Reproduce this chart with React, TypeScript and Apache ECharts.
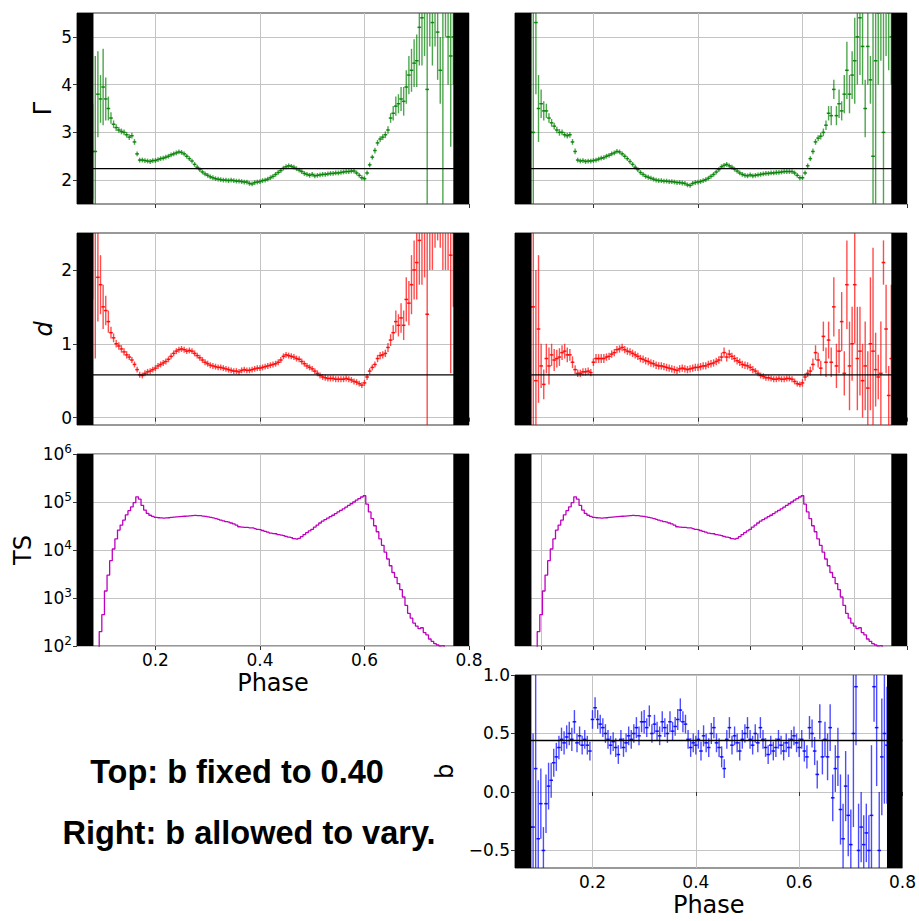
import { useEffect, useRef } from "react";
import * as echarts from "echarts";

// ---------------- DATA ----------------
const phase = [
  0.080, 0.085, 0.090, 0.095, 0.100, 0.105, 0.110, 0.115, 0.120, 0.125,
  0.130, 0.135, 0.140, 0.145, 0.150, 0.155, 0.160, 0.165, 0.170, 0.175,
  0.180, 0.185, 0.190, 0.195, 0.200, 0.205, 0.210, 0.215, 0.220, 0.225,
  0.230, 0.235, 0.240, 0.245, 0.250, 0.255, 0.260, 0.265, 0.270, 0.275,
  0.280, 0.285, 0.290, 0.295, 0.300, 0.305, 0.310, 0.315, 0.320, 0.325,
  0.330, 0.335, 0.340, 0.345, 0.350, 0.355, 0.360, 0.365, 0.370, 0.375,
  0.380, 0.385, 0.390, 0.395, 0.400, 0.405, 0.410, 0.415, 0.420, 0.425,
  0.430, 0.435, 0.440, 0.445, 0.450, 0.455, 0.460, 0.465, 0.470, 0.475,
  0.480, 0.485, 0.490, 0.495, 0.500, 0.505, 0.510, 0.515, 0.520, 0.525,
  0.530, 0.535, 0.540, 0.545, 0.550, 0.555, 0.560, 0.565, 0.570, 0.575,
  0.580, 0.585, 0.590, 0.595, 0.600, 0.605, 0.610, 0.615, 0.620, 0.625,
  0.630, 0.635, 0.640, 0.645, 0.650, 0.655, 0.660, 0.665, 0.670, 0.675,
  0.680, 0.685, 0.690, 0.695, 0.700, 0.705, 0.710, 0.715, 0.720, 0.725,
  0.730, 0.735, 0.740, 0.745, 0.750, 0.755, 0.760, 0.765, 0.770,
];

// Photon index Gamma, b fixed (left)
const gammaFixed = [
  2.6, 2.6, 3.8, 3.7, 3.95, 3.7, 3.5, 3.3, 3.17, 3.1,
  3.05, 3.02, 3.0, 2.95, 2.9, 2.93, 2.8, 2.55, 2.42, 2.42,
  2.41, 2.4, 2.39, 2.41, 2.41, 2.43, 2.45, 2.46, 2.48, 2.5,
  2.53, 2.55, 2.57, 2.59, 2.58, 2.55, 2.5, 2.45, 2.4, 2.33,
  2.27, 2.22, 2.17, 2.13, 2.1, 2.07, 2.05, 2.03, 2.02, 2.01,
  2.0, 2.0, 1.99, 2.0, 1.99, 1.98, 1.98, 1.97, 1.96, 1.96,
  1.93, 1.92, 1.95, 1.96, 1.97, 1.99, 2.0, 2.02, 2.05, 2.08,
  2.12, 2.16, 2.2, 2.25, 2.28, 2.3, 2.29, 2.27, 2.24, 2.21,
  2.18, 2.14, 2.12, 2.1, 2.12, 2.09, 2.1, 2.11, 2.12, 2.12,
  2.13, 2.14, 2.14, 2.15, 2.15, 2.16, 2.17, 2.18, 2.18, 2.19,
  2.19, 2.15, 2.1, 2.05, 2.03, 2.15, 2.32, 2.48, 2.62, 2.78,
  2.86, 2.9, 2.95, 3.05, 3.3, 3.4, 3.55, 3.6, 3.7, 3.65,
  3.95, 4.2, 4.3, 4.45, 4.5, 5.2, 5.4, 5.6, 3.9, 5.6,
  5.3, 6.0, 5.1, 4.3, 6.5, 5.8, 5.0, 4.6, 5.0,
];
const gammaFixedErr = [
  1.0, 2.0, 0.9, 0.5, 0.8, 0.45, 0.25, 0.12, 0.08, 0.07,
  0.06, 0.06, 0.06, 0.06, 0.06, 0.06, 0.06, 0.05, 0.05, 0.05,
  0.05, 0.05, 0.05, 0.05, 0.05, 0.05, 0.05, 0.05, 0.05, 0.05,
  0.05, 0.05, 0.05, 0.05, 0.05, 0.05, 0.05, 0.05, 0.05, 0.05,
  0.05, 0.05, 0.05, 0.05, 0.05, 0.05, 0.05, 0.05, 0.05, 0.05,
  0.05, 0.05, 0.05, 0.05, 0.05, 0.05, 0.05, 0.05, 0.05, 0.05,
  0.05, 0.05, 0.05, 0.05, 0.05, 0.05, 0.05, 0.05, 0.05, 0.05,
  0.05, 0.05, 0.05, 0.05, 0.05, 0.05, 0.05, 0.05, 0.05, 0.05,
  0.05, 0.05, 0.05, 0.05, 0.05, 0.05, 0.05, 0.05, 0.05, 0.05,
  0.05, 0.05, 0.05, 0.05, 0.05, 0.05, 0.05, 0.05, 0.05, 0.05,
  0.05, 0.05, 0.05, 0.05, 0.05, 0.05, 0.05, 0.05, 0.06, 0.06,
  0.06, 0.06, 0.07, 0.08, 0.1, 0.15, 0.2, 0.2, 0.25, 0.3,
  0.35, 0.4, 0.45, 0.5, 0.55, 0.8, 1.0, 1.0, 2.5, 0.8,
  0.9, 1.2, 1.0, 0.7, 5.0, 0.8, 1.0, 1.9, 1.0,
];

// Photon index Gamma, b free (right)
const gammaFree = [
  3.0, 3.0, 5.3, 3.5, 3.6, 3.45, 3.45, 3.3, 3.2, 3.13,
  3.05, 3.0, 3.0, 2.95, 2.93, 2.95, 2.8, 2.6, 2.42, 2.4,
  2.41, 2.39, 2.4, 2.4, 2.41, 2.42, 2.44, 2.46, 2.47, 2.5,
  2.52, 2.55, 2.57, 2.6, 2.59, 2.55, 2.5, 2.45, 2.39, 2.33,
  2.27, 2.22, 2.16, 2.12, 2.08, 2.06, 2.04, 2.02, 2.0, 1.99,
  1.99, 1.98, 1.98, 1.97, 1.97, 1.96, 1.95, 1.95, 1.94, 1.93,
  1.9, 1.89, 1.93, 1.95, 1.96, 1.97, 1.99, 2.01, 2.04, 2.08,
  2.12, 2.17, 2.22, 2.28, 2.31, 2.33, 2.3, 2.27, 2.23, 2.19,
  2.15, 2.12, 2.1, 2.09, 2.11, 2.09, 2.1, 2.11, 2.12, 2.13,
  2.14, 2.14, 2.15, 2.15, 2.16, 2.16, 2.17, 2.18, 2.18, 2.18,
  2.18, 2.15, 2.1, 2.05, 2.05, 2.15, 2.3, 2.45, 2.6, 2.8,
  2.88, 2.92, 3.0, 3.15, 3.4, 3.35, 3.9, 3.35, 3.6, 3.45,
  3.8, 4.3, 3.8, 4.2, 4.5, 5.0, 5.4, 4.8, 3.5, 4.8,
  4.1, 2.5, 4.5, 5.5, 6.0, 3.0, 5.8, 5.5, 5.0,
];
const gammaFreeErr = [
  3.0, 3.0, 1.5, 0.7, 0.3, 0.2, 0.15, 0.1, 0.08, 0.07,
  0.07, 0.07, 0.06, 0.06, 0.06, 0.06, 0.06, 0.06, 0.05, 0.05,
  0.05, 0.05, 0.05, 0.05, 0.05, 0.05, 0.05, 0.05, 0.05, 0.05,
  0.05, 0.05, 0.05, 0.05, 0.05, 0.05, 0.05, 0.05, 0.05, 0.05,
  0.05, 0.05, 0.05, 0.05, 0.05, 0.05, 0.05, 0.05, 0.05, 0.05,
  0.05, 0.05, 0.05, 0.05, 0.05, 0.05, 0.05, 0.05, 0.05, 0.05,
  0.05, 0.05, 0.05, 0.05, 0.05, 0.05, 0.05, 0.05, 0.05, 0.05,
  0.05, 0.05, 0.05, 0.05, 0.05, 0.05, 0.05, 0.05, 0.05, 0.05,
  0.05, 0.05, 0.05, 0.05, 0.05, 0.05, 0.05, 0.05, 0.05, 0.05,
  0.05, 0.05, 0.05, 0.05, 0.05, 0.05, 0.05, 0.05, 0.05, 0.05,
  0.05, 0.05, 0.05, 0.05, 0.05, 0.05, 0.05, 0.05, 0.06, 0.06,
  0.06, 0.07, 0.08, 0.1, 0.15, 0.2, 0.2, 0.2, 0.3, 0.2,
  0.4, 0.6, 0.4, 0.5, 0.9, 1.0, 1.2, 0.8, 0.6, 0.8,
  0.5, 3.5, 3.0, 1.5, 1.5, 3.0, 1.2, 1.2, 1.0,
];

// Parameter d, b fixed (left)
const dFixed = [
  2.6, 2.6, 1.9, 1.8, 1.5, 1.45, 1.3, 1.15, 1.08, 1.0,
  0.97, 0.93, 0.89, 0.85, 0.82, 0.78, 0.72, 0.65, 0.58, 0.57,
  0.6, 0.62, 0.63, 0.65, 0.67, 0.7, 0.72, 0.74, 0.76, 0.79,
  0.83, 0.87, 0.9, 0.92, 0.93, 0.92, 0.9, 0.91, 0.9, 0.87,
  0.84, 0.81, 0.78, 0.75, 0.73, 0.71, 0.7, 0.69, 0.68, 0.68,
  0.67, 0.66, 0.65, 0.64, 0.63, 0.63, 0.62, 0.64, 0.65, 0.64,
  0.64, 0.65, 0.66, 0.67, 0.67, 0.68, 0.69, 0.7, 0.71, 0.72,
  0.73, 0.75, 0.78, 0.83, 0.85, 0.84, 0.83, 0.82, 0.8, 0.79,
  0.76, 0.73, 0.7, 0.68, 0.66, 0.63, 0.6, 0.57, 0.55, 0.54,
  0.53, 0.53, 0.53, 0.52, 0.52, 0.52, 0.52, 0.53, 0.52, 0.51,
  0.49, 0.48, 0.46, 0.44, 0.47, 0.55, 0.63, 0.68, 0.72, 0.8,
  0.84, 0.85, 0.87, 0.95, 1.05, 1.15, 1.3, 1.25, 1.35, 1.25,
  1.6, 1.55, 1.8, 2.0, 2.1, 2.4, 2.6, 2.9, 1.4, 2.8,
  3.0, 2.6, 3.2, 2.9, 3.5, 3.0, 3.2, 2.2, 2.5,
];
const dFixedErr = [
  1.0, 1.8, 0.6, 0.4, 0.3, 0.2, 0.15, 0.08, 0.06, 0.05,
  0.05, 0.05, 0.05, 0.05, 0.04, 0.04, 0.04, 0.04, 0.04, 0.04,
  0.04, 0.04, 0.04, 0.04, 0.04, 0.04, 0.04, 0.04, 0.04, 0.04,
  0.04, 0.04, 0.04, 0.04, 0.04, 0.04, 0.04, 0.04, 0.04, 0.04,
  0.04, 0.04, 0.04, 0.04, 0.04, 0.04, 0.04, 0.04, 0.04, 0.04,
  0.04, 0.04, 0.04, 0.04, 0.04, 0.04, 0.04, 0.04, 0.04, 0.04,
  0.04, 0.04, 0.04, 0.04, 0.04, 0.04, 0.04, 0.04, 0.04, 0.04,
  0.04, 0.04, 0.04, 0.04, 0.04, 0.04, 0.04, 0.04, 0.04, 0.04,
  0.04, 0.04, 0.04, 0.04, 0.04, 0.04, 0.04, 0.04, 0.04, 0.04,
  0.04, 0.04, 0.04, 0.04, 0.04, 0.04, 0.04, 0.04, 0.04, 0.04,
  0.04, 0.04, 0.04, 0.04, 0.04, 0.04, 0.04, 0.04, 0.04, 0.05,
  0.05, 0.05, 0.05, 0.06, 0.08, 0.1, 0.15, 0.15, 0.2, 0.2,
  0.3, 0.3, 0.4, 0.4, 0.5, 0.6, 0.8, 1.0, 1.6, 0.8,
  1.0, 0.3, 0.8, 0.6, 1.5, 1.0, 1.2, 1.6, 1.0,
];

// Parameter d, b free (right)
const dFree = [
  1.5, 1.5, 0.5, 1.2, 0.7, 0.45, 0.8, 0.7, 0.85, 0.78,
  0.8, 0.82, 0.88, 0.9, 0.85, 0.85, 0.75, 0.65, 0.6, 0.6,
  0.62, 0.62, 0.63, 0.61, 0.75, 0.8, 0.8, 0.8, 0.8, 0.82,
  0.83, 0.86, 0.88, 0.92, 0.93, 0.95, 0.92, 0.9, 0.89, 0.87,
  0.85, 0.83, 0.8, 0.79, 0.77, 0.76, 0.74, 0.73, 0.71, 0.7,
  0.7, 0.69, 0.68, 0.67, 0.66, 0.65, 0.64, 0.66, 0.67, 0.66,
  0.65, 0.66, 0.67, 0.68, 0.68, 0.69, 0.7, 0.7, 0.72, 0.73,
  0.74, 0.76, 0.78, 0.82, 0.88, 0.82, 0.86, 0.83, 0.8, 0.77,
  0.75, 0.72, 0.71, 0.7, 0.68, 0.65, 0.63, 0.6, 0.57, 0.56,
  0.54, 0.54, 0.53, 0.52, 0.52, 0.53, 0.52, 0.52, 0.53, 0.53,
  0.52, 0.49, 0.46, 0.45, 0.47, 0.55, 0.6, 0.63, 0.72, 0.88,
  0.78, 0.67, 1.1, 0.75, 1.05, 0.75, 1.5, 0.7, 0.9, 1.3,
  0.6, 1.8, 0.7, 1.0, 1.8, 0.8, 0.9, 0.5, 0.7, 0.4,
  1.0, 0.9, 0.65, 0.55, 0.6, 2.1, 1.2, 0.3, 0.8,
];
const dFreeErr = [
  2.0, 2.0, 1.5, 1.0, 0.3, 0.2, 0.2, 0.25, 0.15, 0.15,
  0.12, 0.12, 0.1, 0.1, 0.1, 0.08, 0.08, 0.06, 0.05, 0.05,
  0.05, 0.05, 0.05, 0.05, 0.05, 0.06, 0.06, 0.06, 0.06, 0.05,
  0.05, 0.05, 0.05, 0.05, 0.05, 0.05, 0.05, 0.05, 0.05, 0.05,
  0.05, 0.05, 0.05, 0.05, 0.05, 0.05, 0.05, 0.05, 0.05, 0.05,
  0.05, 0.05, 0.05, 0.05, 0.05, 0.05, 0.05, 0.05, 0.05, 0.05,
  0.05, 0.05, 0.05, 0.05, 0.05, 0.05, 0.05, 0.05, 0.05, 0.05,
  0.05, 0.05, 0.05, 0.06, 0.07, 0.06, 0.06, 0.05, 0.05, 0.05,
  0.05, 0.05, 0.05, 0.05, 0.05, 0.05, 0.04, 0.04, 0.04, 0.04,
  0.04, 0.04, 0.04, 0.04, 0.04, 0.04, 0.04, 0.04, 0.04, 0.04,
  0.04, 0.04, 0.04, 0.04, 0.05, 0.05, 0.05, 0.06, 0.08, 0.1,
  0.1, 0.1, 0.2, 0.2, 0.25, 0.2, 0.4, 0.3, 0.3, 0.4,
  0.3, 0.6, 0.6, 0.5, 0.8, 0.7, 0.6, 0.5, 0.6, 0.5,
  0.9, 1.4, 0.5, 0.3, 0.7, 0.3, 0.6, 0.4, 1.0,
];

// Test statistic TS (same in both fits)
const tsValues = [
  10, 20, 40, 200, 450, 1400, 3000, 6000, 10500, 17000,
  26000, 33000, 42000, 54000, 66000, 79000, 97000, 128000, 115000, 85000,
  68000, 58000, 53000, 50000, 48000, 47000, 46500, 46000, 46500, 47000,
  48000, 48500, 49000, 49500, 50000, 50500, 51000, 51500, 52000, 52500,
  52000, 52000, 51000, 50000, 49000, 48000, 46500, 45000, 43500, 42000,
  40500, 39000, 38000, 36500, 35000, 33000, 30500, 30000, 29500, 29500,
  29000, 28800, 28000, 27000, 26500, 25500, 24500, 23500, 22500, 22000,
  21800, 21000, 20500, 20000, 19200, 18500, 18000, 17200, 16800, 17500,
  19000, 21000, 23000, 25000, 27000, 30000, 33000, 36500, 40000, 43000,
  46000, 49500, 53000, 57500, 62000, 67000, 72000, 78000, 85000, 92000,
  100000, 109000, 118000, 127000, 135000, 90000, 62000, 45000, 32000, 24000,
  17000, 12500, 9000, 6500, 4700, 3400, 2700, 2000, 1500, 1050,
  700, 480, 380, 300, 260, 230, 240, 190, 170, 140,
  125, 112, 105, 100, 102, 90, 70, 50, 40,
];

// Parameter b, free (right bottom)
const bFree = [
  -0.3, -0.3, 0.2, -0.4, -0.1, -0.5, -0.1, 0.05, 0.1, 0.25,
  0.3, 0.38, 0.45, 0.42, 0.47, 0.5, 0.45, 0.6, 0.42, 0.48,
  0.4, 0.45, 0.4, 0.35, 0.62, 0.72, 0.62, 0.58, 0.55, 0.5,
  0.45, 0.4, 0.43, 0.38, 0.32, 0.45, 0.38, 0.42, 0.48, 0.45,
  0.5, 0.55, 0.48, 0.6, 0.6, 0.55, 0.65, 0.5, 0.58, 0.52,
  0.48, 0.6, 0.55, 0.5, 0.6, 0.52, 0.56, 0.62, 0.7, 0.6,
  0.58, 0.45, 0.38, 0.42, 0.4, 0.45, 0.35, 0.48, 0.42, 0.38,
  0.5, 0.55, 0.42, 0.38, 0.3, 0.2, 0.45, 0.55, 0.4, 0.48,
  0.42, 0.35, 0.45, 0.5, 0.55, 0.45, 0.4, 0.5, 0.42, 0.55,
  0.45, 0.38, 0.32, 0.4, 0.35, 0.38, 0.45, 0.4, 0.35, 0.42,
  0.38, 0.45, 0.48, 0.42, 0.38, 0.45, 0.35, 0.3, 0.55, 0.5,
  0.35, 0.15, 0.6, 0.3, 0.45, 0.3, 0.55, -0.05, 0.2, 0.3,
  -0.15, -0.4, 0.05, -0.2, -0.45, 0.5, 0.9, -0.5, -0.3, -0.45,
  -0.35, -0.5, -0.2, 0.9, 0.55, -0.5, 0.3, 0.5, 0.4,
];
const bFreeErr = [
  1.5, 0.8, 1.2, 0.5, 0.3, 0.2, 0.25, 0.2, 0.15, 0.12,
  0.12, 0.1, 0.1, 0.1, 0.1, 0.1, 0.1, 0.1, 0.08, 0.08,
  0.08, 0.08, 0.08, 0.08, 0.08, 0.09, 0.08, 0.08, 0.08, 0.08,
  0.08, 0.08, 0.08, 0.08, 0.08, 0.08, 0.08, 0.08, 0.08, 0.08,
  0.08, 0.09, 0.08, 0.09, 0.1, 0.08, 0.09, 0.08, 0.08, 0.08,
  0.08, 0.09, 0.08, 0.08, 0.09, 0.08, 0.08, 0.09, 0.1, 0.09,
  0.08, 0.08, 0.08, 0.08, 0.08, 0.08, 0.08, 0.09, 0.08, 0.08,
  0.09, 0.09, 0.08, 0.08, 0.09, 0.08, 0.08, 0.09, 0.08, 0.08,
  0.08, 0.08, 0.08, 0.08, 0.09, 0.08, 0.08, 0.08, 0.08, 0.09,
  0.08, 0.08, 0.08, 0.08, 0.08, 0.08, 0.08, 0.08, 0.08, 0.08,
  0.08, 0.08, 0.08, 0.08, 0.08, 0.08, 0.09, 0.1, 0.1, 0.12,
  0.12, 0.12, 0.15, 0.15, 0.15, 0.2, 0.2, 0.2, 0.2, 0.25,
  0.3, 0.3, 0.3, 0.35, 0.3, 0.8, 0.5, 0.4, 0.3, 0.25,
  0.25, 0.3, 0.6, 0.3, 0.5, 0.5, 0.5, 0.6, 0.5,
];

// Reference values (horizontal lines)
const gammaRef = 2.24;
const dRef = 0.58;
const bRef = 0.44;

// Excluded phase ranges (black bands)
const excludedPhases = [
  [0.05, 0.0815],
  [0.77, 0.8],
];

const phaseTicks = [0.2, 0.4, 0.6, 0.8];
const phaseTicksFine = [0.1, 0.2, 0.3, 0.4, 0.5, 0.6, 0.7, 0.8];
const gammaTicks = [2, 3, 4, 5];
const dTicks = [0, 1, 2];
const bTicks = [-0.5, 0, 0.5, 1.0];

const noteLines = ["Top: b fixed to 0.40", "Right: b allowed to vary."];

// ---------------- CHART ----------------
const FONT = "'DejaVu Sans', sans-serif";
const HW = 0.0035;

type Panel = {
  left: number;
  top: number;
  height: number;
  ymin: number;
  ymax: number;
  log?: boolean;
  yTicks?: number[];
  decimals?: number;
  showYLabels: boolean;
  yName?: string;
  yNameGap?: number;
  yNameItalic?: boolean;
  xTicks: number[];
  showXLabels: boolean;
};

const panels: Panel[] = [
  { left: 77, top: 13, height: 191, ymin: 1.5, ymax: 5.5, yTicks: gammaTicks, decimals: 0, showYLabels: true, yName: "Γ", yNameGap: 22, xTicks: phaseTicks, showXLabels: false },
  { left: 515, top: 13, height: 191, ymin: 1.5, ymax: 5.5, yTicks: gammaTicks, decimals: 0, showYLabels: false, xTicks: phaseTicks, showXLabels: false },
  { left: 77, top: 233, height: 192, ymin: -0.1, ymax: 2.5, yTicks: dTicks, decimals: 0, showYLabels: true, yName: "d", yNameGap: 21, yNameItalic: true, xTicks: phaseTicks, showXLabels: false },
  { left: 515, top: 233, height: 192, ymin: -0.1, ymax: 2.5, yTicks: dTicks, decimals: 0, showYLabels: false, xTicks: phaseTicks, showXLabels: false },
  { left: 77, top: 454, height: 192, ymin: 100, ymax: 1e6, log: true, showYLabels: true, yName: "TS", yNameGap: 42, xTicks: phaseTicks, showXLabels: true },
  { left: 515, top: 454, height: 192, ymin: 100, ymax: 1e6, log: true, showYLabels: false, xTicks: phaseTicksFine, showXLabels: false },
  { left: 515, top: 675, height: 193, ymin: -0.65, ymax: 1.0, yTicks: bTicks, decimals: 1, showYLabels: true, yName: "b", yNameGap: 58, xTicks: phaseTicks, showXLabels: true },
];

function fmtTick(v: number, dec: number) {
  const s = Math.abs(v).toFixed(dec);
  return v < 0 ? "\u2212" + s : s;
}

function errorBarSeries(idx: number, vals: number[], errs: number[], color: string, p: Panel) {
  const data = phase.map((x, i) => [x, vals[i], errs[i]]);
  return {
    type: "custom",
    xAxisIndex: idx,
    yAxisIndex: idx,
    clip: true,
    silent: true,
    z: 2,
    data,
    renderItem: (_params: any, api: any) => {
      const x = api.value(0);
      const y = api.value(1);
      const e = api.value(2);
      const lo = Math.max(y - e, p.ymin);
      const hi = Math.min(y + e, p.ymax);
      const children: any[] = [];
      if (hi > lo) {
        const a = api.coord([x, hi]);
        const b = api.coord([x, lo]);
        children.push({ type: "line", shape: { x1: a[0], y1: a[1], x2: b[0], y2: b[1] }, style: { stroke: color, lineWidth: 1.4, opacity: 0.7 } });
      }
      if (y >= p.ymin && y <= p.ymax) {
        const a = api.coord([x - HW, y]);
        const b = api.coord([x + HW, y]);
        children.push({ type: "line", shape: { x1: a[0], y1: a[1], x2: b[0], y2: b[1] }, style: { stroke: color, lineWidth: 1.5, opacity: 0.9 } });
      }
      return { type: "group", children };
    },
  };
}

function bandSeries(idx: number, p: Panel) {
  return {
    type: "custom",
    xAxisIndex: idx,
    yAxisIndex: idx,
    silent: true,
    z: 6,
    encode: { x: [0, 1] },
    data: excludedPhases,
    renderItem: (params: any, api: any) => {
      const cs = params.coordSys;
      const x0 = api.coord([api.value(0), p.ymin])[0];
      const x1 = api.coord([api.value(1), p.ymin])[0];
      return { type: "rect", shape: { x: x0, y: cs.y, width: x1 - x0, height: cs.height }, style: { fill: "#000" } };
    },
  };
}

function refLine(idx: number, v: number) {
  return {
    type: "line",
    xAxisIndex: idx,
    yAxisIndex: idx,
    silent: true,
    z: 5,
    symbol: "none",
    data: [
      [excludedPhases[0][0], v],
      [excludedPhases[1][1], v],
    ],
    lineStyle: { color: "#000", width: 1.3 },
  };
}

function tsSeries(idx: number) {
  return {
    type: "line",
    xAxisIndex: idx,
    yAxisIndex: idx,
    silent: true,
    z: 3,
    symbol: "none",
    step: "middle",
    data: phase.map((x, i) => [x, tsValues[i]]),
    lineStyle: { color: "#bf00bf", width: 1.3 },
  };
}

export default function App() {
  const ref = useRef<HTMLDivElement>(null);

  useEffect(() => {
    if (!ref.current) return;
    const chart = echarts.init(ref.current, undefined, { renderer: "svg" });

    const grid = panels.map((p) => ({
      left: p.left,
      top: p.top,
      width: 392,
      height: p.height,
      show: true,
      borderColor: "#333",
      borderWidth: 1,
      backgroundColor: "transparent",
      containLabel: false,
    }));

    const xAxis = panels.map((p, i) => ({
      type: "value",
      gridIndex: i,
      min: 0.05,
      max: 0.8,
      axisLine: { show: false },
      axisTick: { show: true, length: 4, customValues: p.xTicks, lineStyle: { color: "#333", width: 1 } },
      axisLabel: {
        show: p.showXLabels,
        customValues: p.xTicks,
        formatter: (v: number) => v.toFixed(1),
        fontFamily: FONT,
        fontSize: 17,
        color: "#000",
        margin: 5,
      },
      splitLine: { show: true, lineStyle: { color: "#c4c4c4", width: 1 } },
      name: p.showXLabels ? "Phase" : "",
      nameLocation: "middle",
      nameGap: 25,
      nameTextStyle: { fontFamily: FONT, fontSize: 24, color: "#000", verticalAlign: "top" },
    }));

    const yAxis = panels.map((p, i) => {
      const base: any = {
        gridIndex: i,
        min: p.ymin,
        max: p.ymax,
        axisLine: { show: false },
        splitLine: { show: true, lineStyle: { color: "#c4c4c4", width: 1 } },
        name: p.yName || "",
        nameLocation: "middle",
        nameGap: p.yNameGap || 30,
        nameTextStyle: { fontFamily: FONT, fontSize: 24, color: "#000", fontStyle: p.yNameItalic ? "italic" : "normal" },
      };
      if (p.log) {
        base.type = "log";
        base.logBase = 10;
        base.axisTick = { show: p.showYLabels, length: 4, lineStyle: { color: "#333" } };
        base.axisLabel = {
          show: p.showYLabels,
          margin: 5,
          formatter: (v: number) => "{b|10}{s|" + Math.round(Math.log10(v)) + "}",
          rich: {
            b: { fontFamily: FONT, fontSize: 17, color: "#000", lineHeight: 22 },
            s: { fontFamily: FONT, fontSize: 12, color: "#000", lineHeight: 12, verticalAlign: "top" },
          },
        };
      } else {
        base.type = "value";
        base.axisTick = { show: p.showYLabels, length: 4, customValues: p.yTicks, lineStyle: { color: "#333" } };
        base.axisLabel = {
          show: p.showYLabels,
          customValues: p.yTicks,
          fontFamily: FONT,
          fontSize: 17,
          color: "#000",
          margin: 5,
          formatter: (v: number) => fmtTick(v, p.decimals || 0),
        };
      }
      return base;
    });

    const series: any[] = [
      errorBarSeries(0, gammaFixed, gammaFixedErr, "#008000", panels[0]),
      refLine(0, gammaRef),
      bandSeries(0, panels[0]),
      errorBarSeries(1, gammaFree, gammaFreeErr, "#008000", panels[1]),
      refLine(1, gammaRef),
      bandSeries(1, panels[1]),
      errorBarSeries(2, dFixed, dFixedErr, "#ff0000", panels[2]),
      refLine(2, dRef),
      bandSeries(2, panels[2]),
      errorBarSeries(3, dFree, dFreeErr, "#ff0000", panels[3]),
      refLine(3, dRef),
      bandSeries(3, panels[3]),
      tsSeries(4),
      bandSeries(4, panels[4]),
      tsSeries(5),
      bandSeries(5, panels[5]),
      errorBarSeries(6, bFree, bFreeErr, "#0000ff", panels[6]),
      refLine(6, bRef),
      bandSeries(6, panels[6]),
    ];

    chart.setOption({
      animation: false,
      backgroundColor: "#fff",
      grid,
      xAxis,
      yAxis,
      series,
      graphic: [
        {
          type: "text",
          x: 237,
          y: 772,
          style: { text: noteLines[0], fill: "#000", font: "bold 32.5px 'Liberation Sans', Arial, sans-serif", textAlign: "center", textVerticalAlign: "middle" },
        },
        {
          type: "text",
          x: 249,
          y: 833,
          style: { text: noteLines[1], fill: "#000", font: "bold 32.5px 'Liberation Sans', Arial, sans-serif", textAlign: "center", textVerticalAlign: "middle" },
        },
      ],
    });

    return () => chart.dispose();
  }, []);

  return <div ref={ref} style={{ position: "absolute", left: 0, top: 0, width: 919, height: 921 }} />;
}
